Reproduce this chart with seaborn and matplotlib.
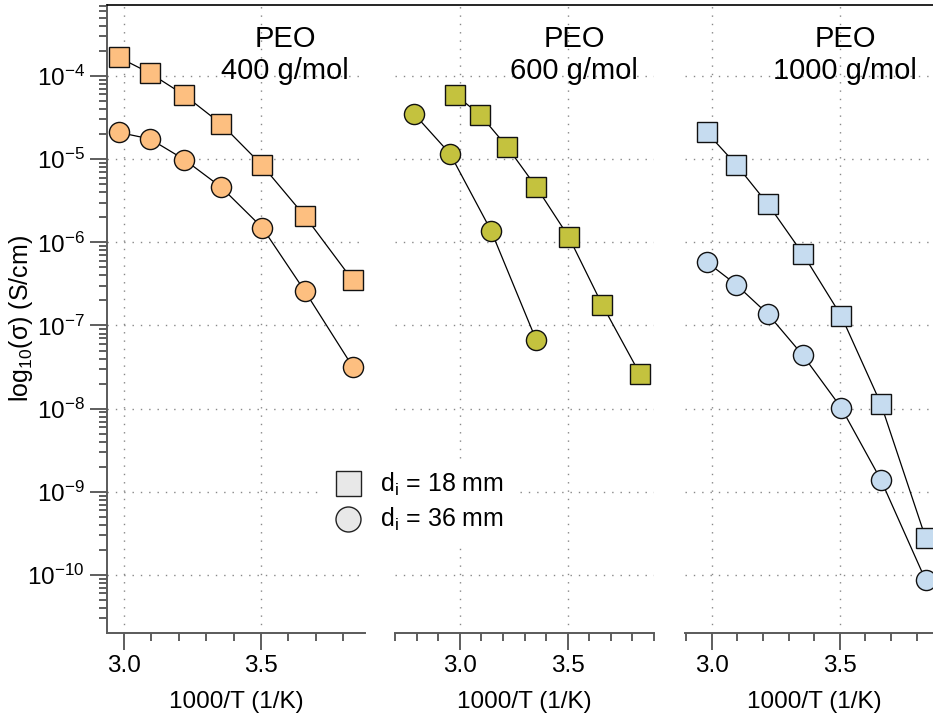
import numpy as np
import seaborn as sns
import matplotlib.pyplot as plt
from matplotlib.lines import Line2D
from matplotlib.ticker import LogLocator, NullFormatter, MultipleLocator, FixedLocator, FormatStrFormatter

sns.set_theme(style='ticks')
plt.rcParams['font.family'] = ['Liberation Sans', 'DejaVu Sans']
plt.rcParams['mathtext.fontset'] = 'custom'
plt.rcParams['mathtext.rm'] = 'Liberation Sans'
plt.rcParams['mathtext.it'] = 'Liberation Sans:italic'
plt.rcParams['mathtext.bf'] = 'Liberation Sans:bold'
plt.rcParams['text.color'] = 'black'
plt.rcParams['axes.labelcolor'] = 'black'
plt.rcParams['xtick.color'] = 'black'
plt.rcParams['ytick.color'] = 'black'

# 1000/T values (1/K)
x_temps = [2.98, 3.095, 3.22, 3.355, 3.505, 3.66, 3.835]
x_600_36 = [2.79, 2.955, 3.145, 3.355]

# conductivity (S/cm), d_i = 18 mm (squares) and 36 mm (circles)
peo400_18 = [1.68e-4, 1.08e-4, 5.9e-5, 2.65e-5, 8.4e-6, 2.07e-6, 3.5e-7]
peo400_36 = [2.1e-5, 1.75e-5, 9.9e-6, 4.6e-6, 1.5e-6, 2.6e-7, 3.2e-8]
peo600_18 = [5.9e-5, 3.4e-5, 1.4e-5, 4.6e-6, 1.16e-6, 1.77e-7, 2.6e-8]
peo600_36 = [3.46e-5, 1.16e-5, 1.38e-6, 6.6e-8]
peo1000_18 = [2.1e-5, 8.6e-6, 2.85e-6, 7.3e-7, 1.31e-7, 1.15e-8, 2.8e-10]
peo1000_36 = [5.8e-7, 3.1e-7, 1.36e-7, 4.4e-8, 1.03e-8, 1.4e-9, 8.7e-11]

titles = ['PEO\n400 g/mol', 'PEO\n600 g/mol', 'PEO\n1000 g/mol']
colors = ['#FDBF80', '#C4C23E', '#C6DCF0']
legend_labels = ['d$_\\mathrm{i}$ = 18 mm', 'd$_\\mathrm{i}$ = 36 mm']
x_major = [3.0, 3.5]

panels = [
    (x_temps, peo400_18, x_temps, peo400_36),
    (x_temps, peo600_18, x_600_36, peo600_36),
    (x_temps, peo1000_18, x_temps, peo1000_36),
]
xlims = [(2.938, 3.880), (2.7, 3.9), (2.895, 3.907)]
lefts = [0.1147, 0.4234, 0.7342]
title_x = [0.69, 0.691, 0.618]

fig = plt.figure(figsize=(9.33, 7.17), dpi=100)
axes = []
for i in range(3):
    ax = fig.add_axes([lefts[i], 0.1172, 0.2776 if i else 0.2765, 0.8759],
                      sharey=axes[0] if axes else None)
    axes.append(ax)

spine_col = '#5a5a5a'
for i, ax in enumerate(axes):
    ax.set_yscale('log')
    xs, ys, xc, yc = panels[i]
    sns.lineplot(x=xs, y=ys, ax=ax, color='black', lw=0.9, marker='s',
                 markersize=15, markerfacecolor=colors[i], markeredgecolor='#111111',
                 markeredgewidth=1.0, estimator=None, errorbar=None, sort=False, zorder=3)
    sns.lineplot(x=xc, y=yc, ax=ax, color='black', lw=0.9, marker='o',
                 markersize=14.5, markerfacecolor=colors[i], markeredgecolor='#111111',
                 markeredgewidth=1.0, estimator=None, errorbar=None, sort=False, zorder=3)

    ax.set_xlim(*xlims[i])
    ax.set_ylim(10 ** -10.697, 10 ** -3.146)
    ax.xaxis.set_major_locator(FixedLocator(x_major))
    ax.xaxis.set_minor_locator(MultipleLocator(0.1))
    ax.xaxis.set_major_formatter(FormatStrFormatter('%.1f'))
    ax.yaxis.set_major_locator(LogLocator(base=10, numticks=20))
    ax.yaxis.set_minor_locator(LogLocator(base=10, subs=np.arange(2, 10), numticks=20))
    ax.yaxis.set_minor_formatter(NullFormatter())

    ax.grid(True, which='major', ls=(0, (1, 5)), color='#888888', lw=1)
    for s in ['top', 'right']:
        ax.spines[s].set_visible(False)
    ax.spines['bottom'].set_color(spine_col)
    ax.spines['bottom'].set_linewidth(1.4)
    ax.spines['left'].set_color(spine_col)
    ax.spines['left'].set_linewidth(1.4)
    ax.tick_params(which='major', length=12, width=1.1, color='#333333',
                   labelsize=17.5, pad=4, labelcolor='black')
    ax.tick_params(which='minor', length=6, width=1.1, color='#333333')
    ax.set_xlabel('1000/T (1/K)', fontsize=17.5, labelpad=10)
    ax.set_ylabel('')
    ax.text(title_x[i], 0.92, titles[i], transform=ax.transAxes, ha='center',
            va='center', fontsize=21, linespacing=1.2)
    if i > 0:
        ax.spines['left'].set_visible(False)
        ax.tick_params(axis='y', which='both', left=False, labelleft=False)

axes[0].set_ylabel('log$_{10}$(σ) (S/cm)', fontsize=18)
axes[0].yaxis.set_label_coords(-0.28, 0.5)

# continuous top border
fig.add_artist(Line2D([lefts[0], 1.0], [0.993, 0.993], color='black', lw=1.2,
                      transform=fig.transFigure))

handles = [Line2D([], [], ls='none', marker='s', markersize=18, markerfacecolor='#E8E8E8',
                  markeredgecolor='#222222', markeredgewidth=1.0),
           Line2D([], [], ls='none', marker='o', markersize=18, markerfacecolor='#E8E8E8',
                  markeredgecolor='#222222', markeredgewidth=1.0)]
fig.legend(handles, legend_labels, loc='center left', bbox_to_anchor=(0.3285, 0.30),
           fontsize=18, frameon=True, facecolor='white', edgecolor='none', framealpha=1,
           fancybox=False, handlelength=1.5, handletextpad=0.55, labelspacing=0.35,
           borderpad=0.4)

fig.savefig('out.png', dpi=100)
